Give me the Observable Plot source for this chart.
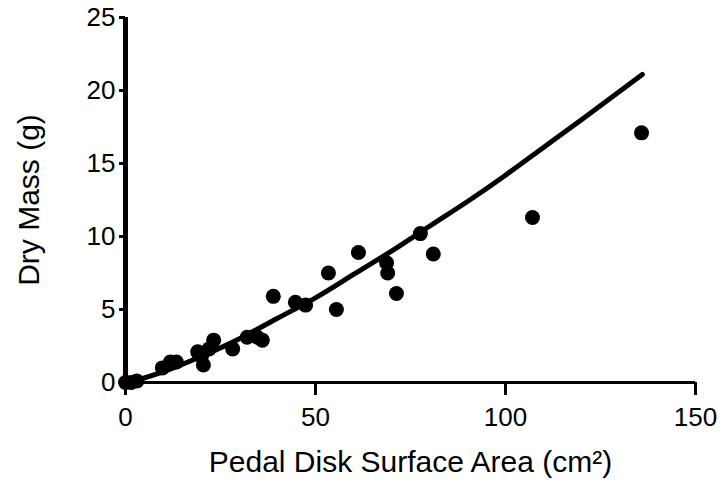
<!DOCTYPE html>
<html><head><meta charset="utf-8">
<script src="https://cdn.jsdelivr.net/npm/d3@7"></script>
<script src="https://cdn.jsdelivr.net/npm/@observablehq/plot@0.6"></script>
<style>body{margin:0;background:#fff}</style>
</head><body><div id="chart"></div>
<script>
// Observed points: pedal disk surface area (cm²) vs dry mass (g)
const areaCm2 = [0, 1.5, 3, 9.7, 11.8, 13.4, 19, 20, 20.5, 22, 23.2, 28.2, 32, 34.7, 36, 38.9, 44.7, 47.4, 53.4, 55.5, 61.3, 68.7, 69, 71.3, 77.6, 81, 107.1, 135.8];
const dryMassG = [0, 0, 0.1, 1.0, 1.4, 1.4, 2.1, 1.8, 1.2, 2.3, 2.9, 2.3, 3.1, 3.1, 2.9, 5.9, 5.5, 5.3, 7.5, 5.0, 8.9, 8.2, 7.5, 6.1, 10.2, 8.8, 11.3, 17.1];
// Fitted curve
const fitArea = [1, 10, 20, 30, 40, 50, 60, 70, 80, 90, 100, 110, 120, 136];
const fitMass = [0.0, 0.74, 1.8, 3.0, 4.4, 5.8, 7.4, 9.0, 10.7, 12.4, 14.2, 16.1, 18.0, 21.1];
const xTicks = [0, 50, 100, 150];
const yTicks = [0, 5, 10, 15, 20, 25];
const xLabel = "Pedal Disk Surface Area (cm²)";
const yLabel = "Dry Mass (g)";

const points = areaCm2.map((a, i) => ({a, m: dryMassG[i]}));
const fit = fitArea.map((a, i) => ({a, m: fitMass[i]}));

const chart = Plot.plot({
  width: 722,
  height: 483,
  marginLeft: 125,
  marginRight: 27,
  marginTop: 17,
  marginBottom: 101,
  style: {fontFamily: "'Liberation Sans', Arial, sans-serif", background: "#fff", color: "#000"},
  x: {domain: [0, 150]},
  y: {domain: [0, 25]},
  marks: [
    Plot.ruleY([0], {x1: 0, x2: 150, stroke: "#000", strokeWidth: 3}),
    Plot.axisX({ticks: xTicks, tickSize: 13, tickPadding: 12, strokeWidth: 3, fontSize: 26, label: null, tickFormat: d => String(d)}),
    Plot.axisY({ticks: yTicks, tickSize: 6, tickPadding: 4, strokeWidth: 3, fontSize: 26, label: null, tickFormat: d => String(d)}),
    Plot.ruleX([0], {y1: 0, y2: 25, stroke: "#000", strokeWidth: 5}),
    Plot.line(fit, {x: "a", y: "m", stroke: "#000", strokeWidth: 5, curve: "natural"}),
    Plot.dot(points, {x: "a", y: "m", r: 7.5, fill: "#000", stroke: "none"}),
    Plot.text([xLabel], {text: d => d, frameAnchor: "bottom", textAnchor: "middle", dy: 80, fontSize: 30, lineAnchor: "middle", fill: "#000"}),
    Plot.text([yLabel], {text: d => d, frameAnchor: "left", textAnchor: "middle", dx: -96, rotate: -90, fontSize: 30, lineAnchor: "middle", fill: "#000"})
  ]
});
document.getElementById("chart").appendChild(chart);
</script>
</body></html>
